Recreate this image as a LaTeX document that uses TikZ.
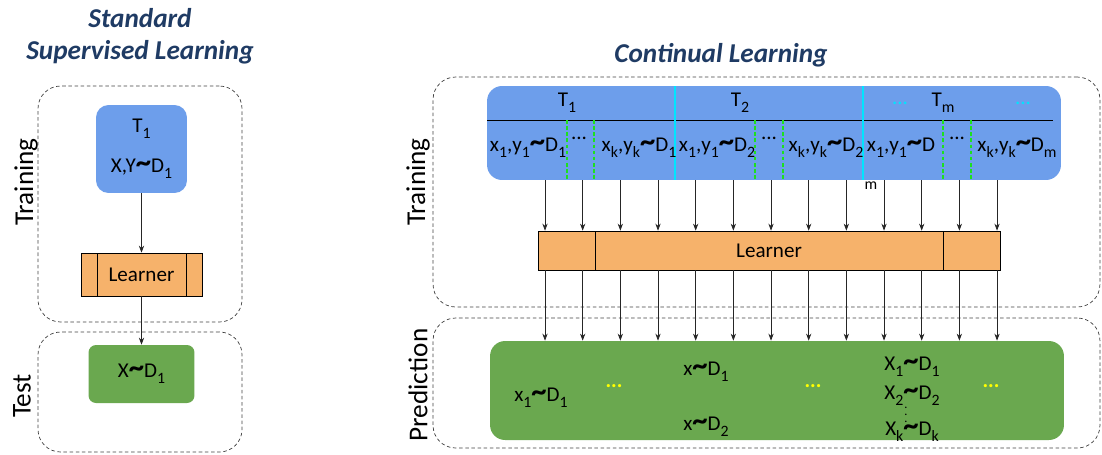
\documentclass[tikz,border=0pt]{standalone}
\usepackage{fontspec}
\setmainfont{Carlito}
\usepackage{xcolor}
\usepackage{tikz}
\usetikzlibrary{arrows.meta}
\definecolor{boxblue}{HTML}{6D9EEB}
\definecolor{boxgreen}{HTML}{6AA84F}
\definecolor{boxorange}{HTML}{F6B26B}
\definecolor{titleblue}{HTML}{1F3B64}
\definecolor{sepcyan}{HTML}{00E5FF}
\definecolor{sepgreen}{HTML}{1EE01E}
\definecolor{dotyellow}{HTML}{FFFF00}
\newcommand{\dist}{\scalebox{1.45}{\bfseries\textasciitilde}}
\newcommand{\sbs}[1]{\raisebox{-0.6ex}{\fontsize{9}{9}\selectfont #1}}

\begin{document}
\begin{tikzpicture}[x=0.02cm,y=-0.02cm,font=\fontsize{12}{14}\selectfont,
  frame/.style={draw=black!75,dash pattern=on 2pt off 1.5pt,rounded corners=0.45cm,inner sep=0pt},
  side/.style={rotate=90,font=\fontsize{15.5}{17}\selectfont},
  heading/.style={font=\fontsize{15.5}{18}\selectfont\bfseries\itshape,text=titleblue,align=center},
  learnerbox/.style={draw,fill=boxorange,inner sep=0pt,path picture={
      \draw ([xshift=#1]path picture bounding box.north west) -- ([xshift=#1]path picture bounding box.south west);
      \draw ([xshift=-#1]path picture bounding box.north east) -- ([xshift=-#1]path picture bounding box.south east);}},
  arr/.style={-{Stealth[length=4pt,width=3pt]},black!85},
  ydots/.style={text=dotyellow,font=\fontsize{12}{14}\selectfont\bfseries}]
\useasboundingbox (0,0) rectangle (1102,454);

% standard supervised learning
\node[heading] (titleL) at (140,36) {Standard\\Supervised Learning};
\node[frame,minimum width=4.08cm,minimum height=4.72cm] (trainL) at (140,204) {};
\node[frame,minimum width=4.08cm,minimum height=2.4cm] (testL) at (140,392) {};
\node[side] (trainLabL) at (26,182) {Training};
\node[side] (testLab) at (22,396) {Test};
\node[fill=boxblue,rounded corners=0.25cm,minimum width=1.82cm,minimum height=1.76cm,align=center] (tl) at (141.5,149) {T\sbs{1}\\[9pt]X,Y\dist D\sbs{1}};
\node[learnerbox=0.32cm,minimum width=2.42cm,minimum height=0.86cm] (ll) at (141.5,274.5) {Learner};
\node[fill=boxgreen,rounded corners=0.15cm,minimum width=2.12cm,minimum height=1.16cm] (tg) at (141.5,374) {X\dist D\sbs{1}};
\draw[arr] (tl) -- (ll);
\draw[arr] (ll) -- (tg);

% continual learning
\node[heading] (titleR) at (721,55) {Continual Learning};
\node[frame,minimum width=13.34cm,minimum height=4.6cm] (trainR) at (766.5,192) {};
\node[frame,minimum width=13.34cm,minimum height=2.6cm] (predR) at (766.5,383) {};
\node[side] (trainLabR) at (418,182) {Training};
\node[side] (predLab) at (418,385) {Prediction};

\node[fill=boxblue,rounded corners=0.3cm,minimum width=11.48cm,minimum height=1.88cm] (blue) at (774,133) {};
\draw (487,120) -- (1053,120);
\draw[sepcyan,line width=1pt] (675,86) -- (675,180);
\draw[sepcyan,line width=1pt] (863,86) -- (863,180);
\foreach \x in {567,594,755,783,943,971}
  \draw[sepgreen,line width=0.8pt,dash pattern=on 2pt off 1.5pt] (\x,120) -- (\x,180);
\node (t1) at (567,103) {T\sbs{1}};
\node (t2) at (740,103) {T\sbs{2}};
\node[text=sepcyan] (c1) at (900,103) {...};
\node (tm) at (943,103) {T\sbs{m}};
\node[text=sepcyan] (c2) at (1023,103) {...};
\node (s1) at (528,148) {x\sbs{1},y\sbs{1}\dist D\sbs{1}};
\node (d1) at (579,138) {...};
\node (s2) at (639,148) {x\sbs{k},y\sbs{k}\dist D\sbs{1}};
\node (s3) at (717,148) {x\sbs{1},y\sbs{1}\dist D\sbs{2}};
\node (d2) at (769,138) {...};
\node (s4) at (826,148) {x\sbs{k},y\sbs{k}\dist D\sbs{2}};
\node (s5) at (901,148) {x\sbs{1},y\sbs{1}\dist D};
\node[font=\fontsize{9}{9}\selectfont] (s5m) at (871,186) {m};
\node (d3) at (957,138) {...};
\node (s6) at (1017,148) {x\sbs{k},y\sbs{k}\dist D\sbs{m}};

\node[learnerbox=1.14cm,minimum width=9.24cm,minimum height=0.78cm] (lr) at (769,250.5) {Learner};
\node[fill=boxgreen,rounded corners=0.3cm,minimum width=11.48cm,minimum height=1.98cm] (green) at (777,390.5) {};

\foreach \i in {0,...,12}{
  \pgfmathsetmacro{\x}{545+37.67*\i}
  \coordinate (c\i) at (\x,0);
  \draw[arr] (blue.south -| c\i) -- (lr.north -| c\i);
  \draw[arr] (lr.south -| c\i) -- (green.north -| c\i);
}

\node (p1) at (541,398) {x\sbs{1}\dist D\sbs{1}};
\node[ydots] (y1) at (614,386) {...};
\node (p2) at (706,372) {x\dist D\sbs{1}};
\node (p3) at (706,427) {x\dist D\sbs{2}};
\node[ydots] (y2) at (813,386) {...};
\node (p4) at (912,367) {X\sbs{1}\dist D\sbs{1}};
\node (p5) at (912,396) {X\sbs{2}\dist D\sbs{2}};
\node[font=\scriptsize,inner sep=0pt] (vd) at (906,410) {$\vdots$};
\node (p6) at (912,432) {X\sbs{k}\dist D\sbs{k}};
\node[ydots] (y3) at (991,386) {...};
\end{tikzpicture}
\end{document}
